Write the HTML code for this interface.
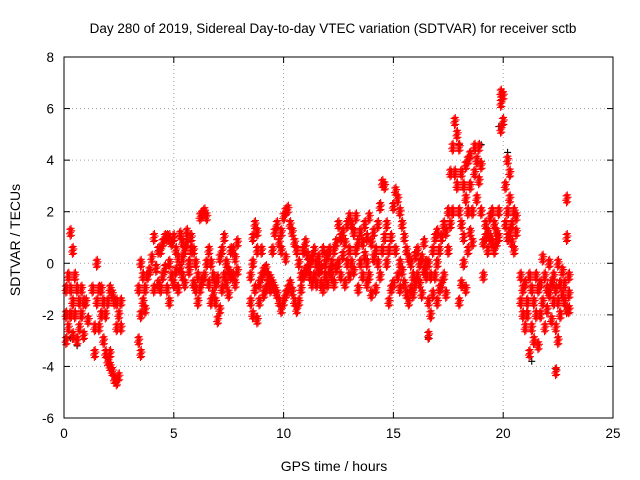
<!DOCTYPE html>
<html><head><meta charset="utf-8"><style>
body{margin:0;background:#fff;}
svg{display:block;font-family:"Liberation Sans",sans-serif;}
</style></head><body>
<svg id="chart" width="640" height="480">
<text x="333" y="33" text-anchor="middle" font-size="13.5">Day 280 of 2019, Sidereal Day-to-day VTEC variation (SDTVAR) for receiver sctb</text>
<text x="334" y="471" text-anchor="middle" font-size="14">GPS time / hours</text>
<text transform="translate(20,240) rotate(-90)" text-anchor="middle" font-size="14">SDTVAR / TECUs</text>
<g id="grid"></g>
<g id="ticks"></g>
<g id="marks"></g>
<rect x="64" y="57" width="549" height="361" fill="none" stroke="#000"/>
</svg>
<script>
const xTicks=[0,5,10,15,20,25];
const yTicks=[-6,-4,-2,0,2,4,6,8];
const times=[0.1,0.2,0.3,0.4,0.5,0.6,0.7,0.8,0.9,1.0,1.1,1.3,1.4,1.5,1.6,1.7,1.8,1.9,2.0,2.1,2.2,2.3,2.4,2.5,2.6,
3.4,3.5,3.6,3.7,3.8,3.9,4.0,4.1,4.2,4.3,4.4,4.5,4.6,4.7,4.8,4.9,5.0,5.1,5.2,5.3,5.4,5.5,5.6,5.7,5.8,5.9,6.0,6.1,6.2,6.3,6.4,6.5,6.6,6.7,6.8,6.9,7.0,7.1,7.2,7.3,7.4,7.5,7.6,7.7,7.8,7.9,
8.5,8.6,8.7,8.8,8.9,9.0,9.1,9.2,9.3,9.4,9.5,9.6,9.7,9.8,9.9,10.0,10.1,10.2,10.3,10.4,10.5,10.6,10.7,10.8,10.9,11.0,11.1,11.2,11.3,11.4,11.5,11.6,11.7,11.8,11.9,12.0,12.1,12.2,12.3,12.4,12.5,12.6,12.7,12.8,12.9,13.0,13.1,13.2,13.3,13.4,13.5,13.6,13.7,13.8,13.9,14.0,14.1,14.2,14.3,14.4,14.5,14.6,14.7,14.8,14.9,15.0,15.1,15.2,15.3,15.4,15.5,15.6,15.7,15.8,15.9,16.0,16.1,16.2,16.3,16.4,16.5,16.6,16.7,16.8,16.9,17.0,17.1,17.2,17.3,17.4,17.5,17.6,17.7,17.8,17.9,18.0,18.1,18.2,18.3,18.4,18.5,18.6,18.7,18.8,18.9,19.0,19.1,19.2,19.3,19.4,19.5,19.6,19.7,19.8,19.9,20.0,20.1,20.2,20.3,20.4,20.5,20.6,
20.8,20.9,21.0,21.1,21.2,21.3,21.4,21.5,21.6,21.7,21.8,21.9,22.0,22.1,22.2,22.3,22.4,22.5,22.6,22.7,22.8,22.9,23.0];
const values=[[-1,-2,-3],[-0.5,-2.5],[1.2,-1,-2],[0.5,-1.5,-2.8],[-0.5,-2],[-1,-3],[-1.5,-2.5],[-1,-2],[-1.5,-2.8],[-1.5],[-2.2],[-1],[-2.5,-3.5],[-1.5,0],[-1,-2.5],[-1,-2],[-1.5,-3],[-2,-3.5],[-1.5,-3.8],[-1,-3.5,-4],[-1.2,-4.2],[-1.5,-4.5],[-1.5,-4.6,-2.5],[-2,-4.4],[-1.5,-2.5],
[-1,-3],[0,-2,-3.5],[-0.5,-1.5],[-1,-1.8],[-0.5],[-0.3],[0.2],[-1,1],[-0.2],[0.5,-0.8],[0.5,-1],[0.8,-0.5],[1,-0.2],[1,-1],[1,-1.5,0],[0.8,-0.5],[1,-0.8],[0.5,-0.3],[0.2,-1],[1.1,-0.2],[0.8,-0.5,0.2],[0.5,-0.8],[0.8,1.2],[0,-0.3],[0.5,1],[-0.8,0.5],[-1,0],[-1.5,-0.5],[-1,1.8],[1.9,-0.7],[2,-0.5],[1.8,0],[-0.8,0.5],[-1.5,0],[-1.2,-0.5],[-1.5,-0.8],[-2.2,-0.6],[-1.8,0.2],[-1,0.5],[-0.5,1],[-0.8,0],[-0.3,-1.2],[0.5,-0.5],[-0.5,0.5],[0.2,-0.8],[0.8,-0.3],
[-0.5,-1.5],[0,-2,1],[1.5,-1],[0.5,-2.2,1.2],[-0.8,-1.5],[-0.5,0.5],[-0.3,-1.2],[-0.2,-1],[-0.5,-0.8],[-1,-0.6],[-0.8,0.5],[-1,1.2],[-1.2,1.5],[-1.5,0.8],[-1.8,1.2,0.5],[-1.5,1.8],[-1.2,2,0.2],[-1,2.1],[-0.8,1.5],[-1.1,1.2],[-1.5,0.8],[-1.8,0.5],[-1.5,0],[-1,-0.5],[-0.5,0.5],[-0.3,0.8],[-0.2,0.3],[-0.5,0],[-0.8,0.2],[0.5,-0.5],[0,-0.8],[-0.3,0.2],[-0.8,-0.2],[-1,0.5],[-0.5,0],[-0.8,0.3],[-0.3,0.5],[0,-0.5],[0.5,-0.8],[0.8,-0.2],[1.5,0],[1,-0.5],[1.2,0.3],[0.8,-0.8],[1.5,0],[1.8,0.5,-0.5],[1.5,0],[1.2,-0.3],[1.8,0.5],[0.8,-1],[1.2,0],[0.8,-0.5],[1.5,0.3],[1,-0.8,0],[1.8,-0.5],[0.8,-1.2],[1.2,0.2],[0.5,-1],[1.5,0],[2.2,-0.5],[3.1,0.5],[3,1],[1.5,0],[0.5,-1.5],[1,-1],[2.2,-0.8],[2.8,0.5],[2.5,-0.5],[2,0,-1],[1.5,-0.3],[1,-0.8],[0.5,-1.2],[0.2,-1.5],[0,-1],[-0.5,-1.2],[0.3,-0.8],[-0.5,0.5],[-0.8,0],[0.2,-1.2],[-0.3,0.8],[0,-0.5],[-2.8,-1.5,0],[-2,-0.5],[-1.2,0.5],[-0.5,1],[0,1.2,-1.5],[0.5,-1],[1,-0.8],[1.5,-0.5],[1.2,-1.2],[2,0.5],[3.5,1.5],[4.5,2],[5.5,3.5],[5,3],[4.5,2,-1.5],[3.5,1.5,-0.8],[3,1,0],[3.8,2.5,-1],[4,2,0.5],[4.2,3,1.2],[2,0.8],[4.5,3.5],[4,2.5],[4.5,3.2],[3.8,2],[-0.5,0.8],[1,1.5],[0.5,1.2],[1,1.8],[0.8,2],[1.5,0.5],[1.2,0.8],[2,1],[6.6,6.2,5.2],[5.5,6.5],[1.5,3],[2,4,1],[2.5,3.5,1.2],[1.5,0.8],[2,0.5],[1.8,1.2],
[-0.5,-1.5],[-2,-1],[-2.5,-0.8],[-1.5,-2],[-0.5,-3.5],[-1,-2.5],[-3,-1.5],[-2,-0.5],[-1,-3.2],[-2,-0.8],[-1.5,0.2],[-2.5,-0.5],[-1,-1.8],[0,-1.2],[-0.8,-2.2],[-1.5,-0.5],[-4.2,-2.5,-1],[-3,-1.5,0],[-2,-0.8],[-1.2,-0.3],[-1.5,-0.8],[-1.8,2.5,1],[-1.2,-0.5,-1.8]];
const blackTimes=[0.6,19.0,19.8,20.2,21.3,22.4,18.0,16.6,8.8,0.3];
const blackValues=[-3.2,4.6,5.3,4.3,-3.8,-4.1,4.6,-2.9,-2.2,-2.9];
const NS="http://www.w3.org/2000/svg";
const X0=64,X1=613,Y0=418,Y1=57;
function xs(t){return X0+(t-0)/(25-0)*(X1-X0);}
function ys(v){return Y0-(v-(-6))/(8-(-6))*(Y0-Y1);}
const grid=document.getElementById('grid'),ticks=document.getElementById('ticks'),marks=document.getElementById('marks');
function mk(tag,attrs,parent){const e=document.createElementNS(NS,tag);for(const k in attrs)e.setAttribute(k,attrs[k]);parent.appendChild(e);return e;}
xTicks.forEach(t=>{
 const x=xs(t);
 if(t>0&&t<25){const g=mk('line',{x1:x,x2:x,y1:Y0,y2:Y1,stroke:'#a0a0a0','stroke-dasharray':'1,3'},grid);
 
 }
 mk('line',{x1:x,x2:x,y1:Y0,y2:Y0-6,stroke:'#000'},ticks);
 mk('line',{x1:x,x2:x,y1:Y1,y2:Y1+6,stroke:'#000'},ticks);
 const l=mk('text',{x:x,y:Y0+20,'text-anchor':'middle','font-size':'13.5'},ticks);l.textContent=t;
 
 
});
yTicks.forEach(v=>{
 const y=ys(v);
 if(v>-6&&v<8){const g=mk('line',{x1:X0,x2:X1,y1:y,y2:y,stroke:'#a0a0a0','stroke-dasharray':'1,3'},grid);
 
 }
 mk('line',{x1:X0,x2:X0+6,y1:y,y2:y,stroke:'#000'},ticks);
 mk('line',{x1:X1,x2:X1-6,y1:y,y2:y,stroke:'#000'},ticks);
 const l=mk('text',{x:X0-10,y:y+5,'text-anchor':'end','font-size':'13.5'},ticks);l.textContent=v;
 
 
});
function plus(x,y,c){
 const p=mk('path',{d:`M${x-3.5},${y}h7M${x},${y-3.5}v7`,stroke:c,'stroke-width':1.1,fill:'none'},marks);
 
 
}
blackTimes.forEach((t,i)=>plus(xs(t),ys(blackValues[i]),'#000'));
const jit=[[0,0],[-0.8,-3],[0.8,3],[-0.4,4],[0.4,-4],[-1.1,1.5],[1.1,-1.5]];
times.forEach((t,i)=>{values[i].forEach(v=>{
 const x=xs(t),y=ys(v);
 jit.forEach(o=>plus(x+o[0],y+o[1],'#ff0000'));
});});
</script>
</body></html>
